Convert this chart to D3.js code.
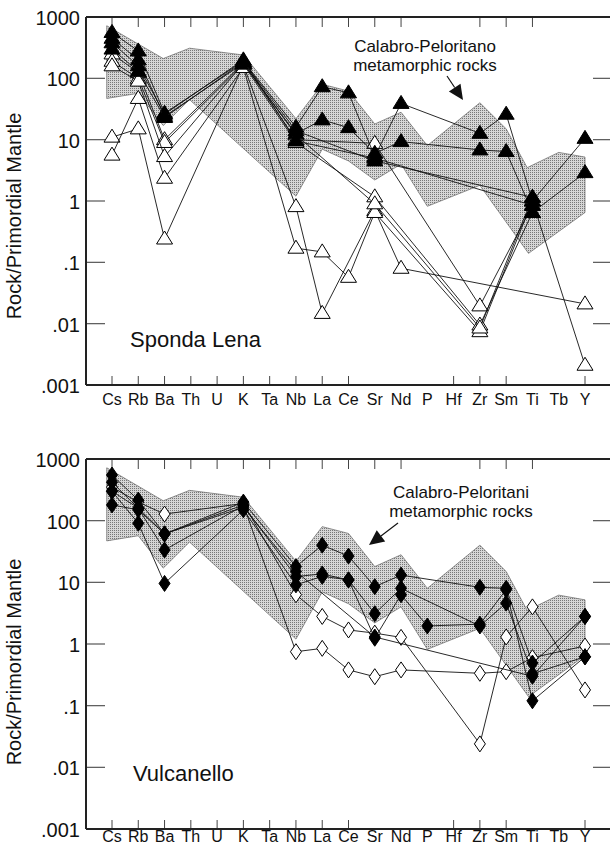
<!DOCTYPE html>
<html>
<head>
<meta charset="utf-8">
<script src="https://cdn.jsdelivr.net/npm/d3@7/dist/d3.min.js"></script>
<style>
  html, body { margin: 0; padding: 0; background: #fff; }
  svg { display: block; font-family: "Liberation Sans", Arial, sans-serif; }
</style>
</head>
<body>
<svg id="chart" width="610" height="846"></svg>
<script>
// Spider diagram: rock / primordial mantle, two localities
const elements = ["Cs","Rb","Ba","Th","U","K","Ta","Nb","La","Ce","Sr","Nd","P","Hf","Zr","Sm","Ti","Tb","Y"];
const topTickElements = ["Cs","Rb","Ba","Th","U","K","Ta","Nb","La","Ce","Sr","Nd","Zr","Sm","Ti"];
const bottomTickElements = ["Cs","Rb","Ba","Th","U","K","Ta","Nb","La","Ce","Hf","Zr","Sm","Y"];
const yTickValues = [1000, 100, 10, 1, 0.1, 0.01, 0.001];
const yTickLabels = ["1000", "100", "10", "1", ".1", ".01", ".001"];
const yAxisTitle = "Rock/Primordial Mantle";

// Calabro-Peloritani metamorphic field (position in element units, value)
const fieldUpperPos = [-0.2, 1.95, 2.95, 5, 7, 8, 9, 10, 11, 12, 14, 15, 15.8, 17, 18];
const fieldUpperVal = [720, 210, 310, 240, 22, 80, 62, 18, 28, 8, 40, 15, 3.5, 6.2, 5.2];
const fieldLowerPos = [18, 15.85, 14, 12, 11, 10, 9, 8, 7, 2.95, 1.95, 1, -0.2];
const fieldLowerVal = [0.65, 0.14, 1.8, 0.82, 4, 2.2, 4.5, 7, 1.2, 45, 17, 57, 47];

// Sponda Lena samples (order follows `elements`; null = not analysed)
const spondaOpen = [
  [11, 15, 0.24, null, null, 165, null, 0.81, 0.0147, null, 0.70, 0.08, null, null, null, null, null, null, 0.021],
  [5.6, 47, 2.35, null, null, 150, null, 0.17, 0.148, 0.057, 0.65, null, null, null, 0.0074, null, 1.0, null, 0.0021],
  [250, 125, 10, null, null, 180, null, 10, null, null, 8.7, null, null, null, 0.0195, null, 0.85, null, null],
  [190, 100, 9, null, null, 170, null, 9, null, null, 1.17, null, null, null, 0.0095, null, 0.65, null, null],
  [160, 90, 5.3, null, null, 175, null, 12, null, null, 0.9, null, null, null, 0.0085, null, 1.15, null, null]
];
const spondaFilled = [
  [560, 280, 27, null, null, 190, null, 16, 73, 58, 5.3, 39, null, null, 12.7, 26, 1.0, null, 10.5],
  [450, 200, 24, null, null, 175, null, 12.5, 21, 15.7, 6, 9.3, null, null, 6.8, 6.4, 0.65, null, 2.9],
  [380, 160, 26, null, null, 200, null, 9.5, null, null, 5, null, null, null, null, null, 0.85, null, null],
  [300, 130, 23, null, null, 185, null, 14, null, null, 4.5, null, null, null, null, null, 1.15, null, null]
];

// Vulcanello samples
const vulcanelloOpen = [
  [350, 200, 128, null, null, 190, null, 6.3, 2.8, 1.69, 1.5, 1.28, null, null, 0.024, 1.3, 4.0, null, 0.18],
  [300, 160, 61, null, null, 180, null, 0.75, 0.85, 0.38, 0.295, 0.38, null, null, 0.335, 0.356, 0.6, null, 0.93]
];
const vulcanelloFilled = [
  [550, 216, 61, null, null, 200, null, 18, 40, 26.7, 8.5, 13.1, null, null, 8.3, 8, 0.49, null, 2.8],
  [420, 158, 33.5, null, null, 175, null, 12.4, 13.7, 10.9, 3.1, 8, null, null, 1.96, 4.6, 0.33, null, 0.62],
  [300, 90.6, 9.6, null, null, 150, null, 9.1, 12.5, 11, 1.24, 6.3, 1.96, null, 2.1, 7.6, 0.12, null, 0.62],
  [180, 150, 61, null, null, 165, null, 15, null, null, 1.3, null, null, null, null, null, 0.3, null, 2.8]
];

const svg = d3.select("#chart");

// stipple pattern for the metamorphic field
const defs = svg.append("defs");
const pat = defs.append("pattern")
  .attr("id", "stipple").attr("patternUnits", "userSpaceOnUse")
  .attr("width", 2).attr("height", 2);
pat.append("rect").attr("width", 2).attr("height", 2).attr("fill", "#d6d6d6");
pat.append("rect").attr("width", 1).attr("height", 1).attr("fill", "#777");

const left = 86, right = 610;
const x = d3.scalePoint().domain(elements).range([112, 585]);
const xPos = d3.scaleLinear().domain([0, elements.length - 1]).range([112, 585]);

const panels = [
  { top: 17, bottom: 385, open: spondaOpen, filled: spondaFilled, marker: "triangle",
    name: "Sponda Lena", nameX: 130, nameY: 347, labelY: 405,
    note: ["Calabro-Peloritano", "metamorphic rocks"], noteX: 425, noteY: 52,
    arrow: [[447, 76], [463, 100]], titleY: 216 },
  { top: 459, bottom: 829, open: vulcanelloOpen, filled: vulcanelloFilled, marker: "diamond",
    name: "Vulcanello", nameX: 133, nameY: 781, labelY: 842,
    note: ["Calabro-Peloritani", "metamorphic rocks"], noteX: 461, noteY: 498,
    arrow: [[398, 523], [369, 545]], titleY: 662 }
];

function markerPath(type, cx, cy) {
  if (type === "triangle") {
    return `M${cx},${cy - 8}L${cx + 8},${cy + 5}L${cx - 8},${cy + 5}Z`;
  }
  return `M${cx},${cy - 8}L${cx + 5.5},${cy}L${cx},${cy + 8}L${cx - 5.5},${cy}Z`;
}

panels.forEach(p => {
  const g = svg.append("g");
  const y = d3.scaleLog().domain([0.001, 1000]).range([p.bottom, p.top]);

  // field polygon
  const fieldPts = fieldUpperPos.map((d, i) => [xPos(d), y(fieldUpperVal[i])])
    .concat(fieldLowerPos.map((d, i) => [xPos(d), y(fieldLowerVal[i])]));
  g.append("path")
    .attr("d", d3.line()(fieldPts) + "Z")
    .attr("fill", "url(#stipple)")
    .attr("stroke", "#666").attr("stroke-width", 0.7);

  // y ticks (both sides, inward)
  const inner = yTickValues.filter(v => v !== 1000 && v !== 0.001);
  g.selectAll(".ytl").data(inner).join("line")
    .attr("x1", left).attr("x2", left + 19)
    .attr("y1", d => y(d)).attr("y2", d => y(d))
    .attr("stroke", "#555").attr("stroke-width", 1.2);
  g.selectAll(".ytr").data(inner).join("line")
    .attr("x1", 593).attr("x2", right)
    .attr("y1", d => y(d)).attr("y2", d => y(d))
    .attr("stroke", "#555").attr("stroke-width", 1.2);

  // y tick labels
  g.selectAll(".ylab").data(yTickValues).join("text")
    .attr("x", 80).attr("y", d => y(d) + 8)
    .attr("text-anchor", "end").attr("font-size", 20).attr("fill", "#111")
    .text((d, i) => yTickLabels[i]);

  // x ticks: top and bottom, inward
  g.selectAll(".xtt").data(topTickElements).join("line")
    .attr("x1", d => x(d)).attr("x2", d => x(d))
    .attr("y1", p.top).attr("y2", p.top + 10)
    .attr("stroke", "#444").attr("stroke-width", 1);
  g.selectAll(".xtb").data(bottomTickElements).join("line")
    .attr("x1", d => x(d)).attr("x2", d => x(d))
    .attr("y1", p.bottom).attr("y2", p.bottom - 9)
    .attr("stroke", "#444").attr("stroke-width", 1);

  // element labels
  g.selectAll(".xlab").data(elements).join("text")
    .attr("x", d => x(d)).attr("y", p.labelY)
    .attr("text-anchor", "middle").attr("font-size", 16).attr("fill", "#111")
    .text(d => d);

  // axis frame
  g.append("line").attr("x1", left).attr("x2", right).attr("y1", p.top).attr("y2", p.top)
    .attr("stroke", "#222").attr("stroke-width", 2);
  g.append("line").attr("x1", left).attr("x2", right).attr("y1", p.bottom).attr("y2", p.bottom)
    .attr("stroke", "#222").attr("stroke-width", 2);
  g.append("line").attr("x1", left).attr("x2", left).attr("y1", p.top).attr("y2", p.bottom)
    .attr("stroke", "#222").attr("stroke-width", 2);

  // axis title
  g.append("text")
    .attr("transform", `translate(21,${p.titleY}) rotate(-90)`)
    .attr("text-anchor", "middle").attr("font-size", 20).attr("fill", "#111")
    .text(yAxisTitle);

  // samples
  const line = d3.line()
    .defined(d => d.v != null)
    .x(d => x(d.e)).y(d => y(d.v));
  const drawSet = (set, filled) => {
    set.forEach(vals => {
      const pts = elements.map((e, i) => ({ e, v: vals[i] })).filter(d => d.v != null);
      g.append("path").attr("d", line(pts))
        .attr("fill", "none").attr("stroke", "#111").attr("stroke-width", 0.9);
      g.selectAll(null).data(pts).join("path")
        .attr("d", d => markerPath(p.marker, x(d.e), y(d.v)))
        .attr("fill", filled ? "#000" : "#fff")
        .attr("stroke", "#000").attr("stroke-width", 1);
    });
  };
  drawSet(p.open, false);
  drawSet(p.filled, true);

  // locality name
  g.append("text").attr("x", p.nameX).attr("y", p.nameY)
    .attr("font-size", 22).attr("fill", "#111").text(p.name);

  // field annotation with arrow
  g.selectAll(".note").data(p.note).join("text")
    .attr("x", p.noteX).attr("y", (d, i) => p.noteY + i * 19)
    .attr("text-anchor", "middle").attr("font-size", 17).attr("fill", "#111")
    .text(d => d);
  const [a0, a1] = p.arrow;
  const ang = Math.atan2(a1[1] - a0[1], a1[0] - a0[0]);
  const hl = 15, hw = 7;
  const bx = a1[0] - hl * Math.cos(ang), by = a1[1] - hl * Math.sin(ang);
  g.append("line").attr("x1", a0[0]).attr("y1", a0[1]).attr("x2", bx).attr("y2", by)
    .attr("stroke", "#111").attr("stroke-width", 1.2);
  g.append("path")
    .attr("d", `M${a1[0]},${a1[1]}L${bx + hw * Math.sin(ang)},${by - hw * Math.cos(ang)}L${bx - hw * Math.sin(ang)},${by + hw * Math.cos(ang)}Z`)
    .attr("fill", "#111");
});
</script>
</body>
</html>
